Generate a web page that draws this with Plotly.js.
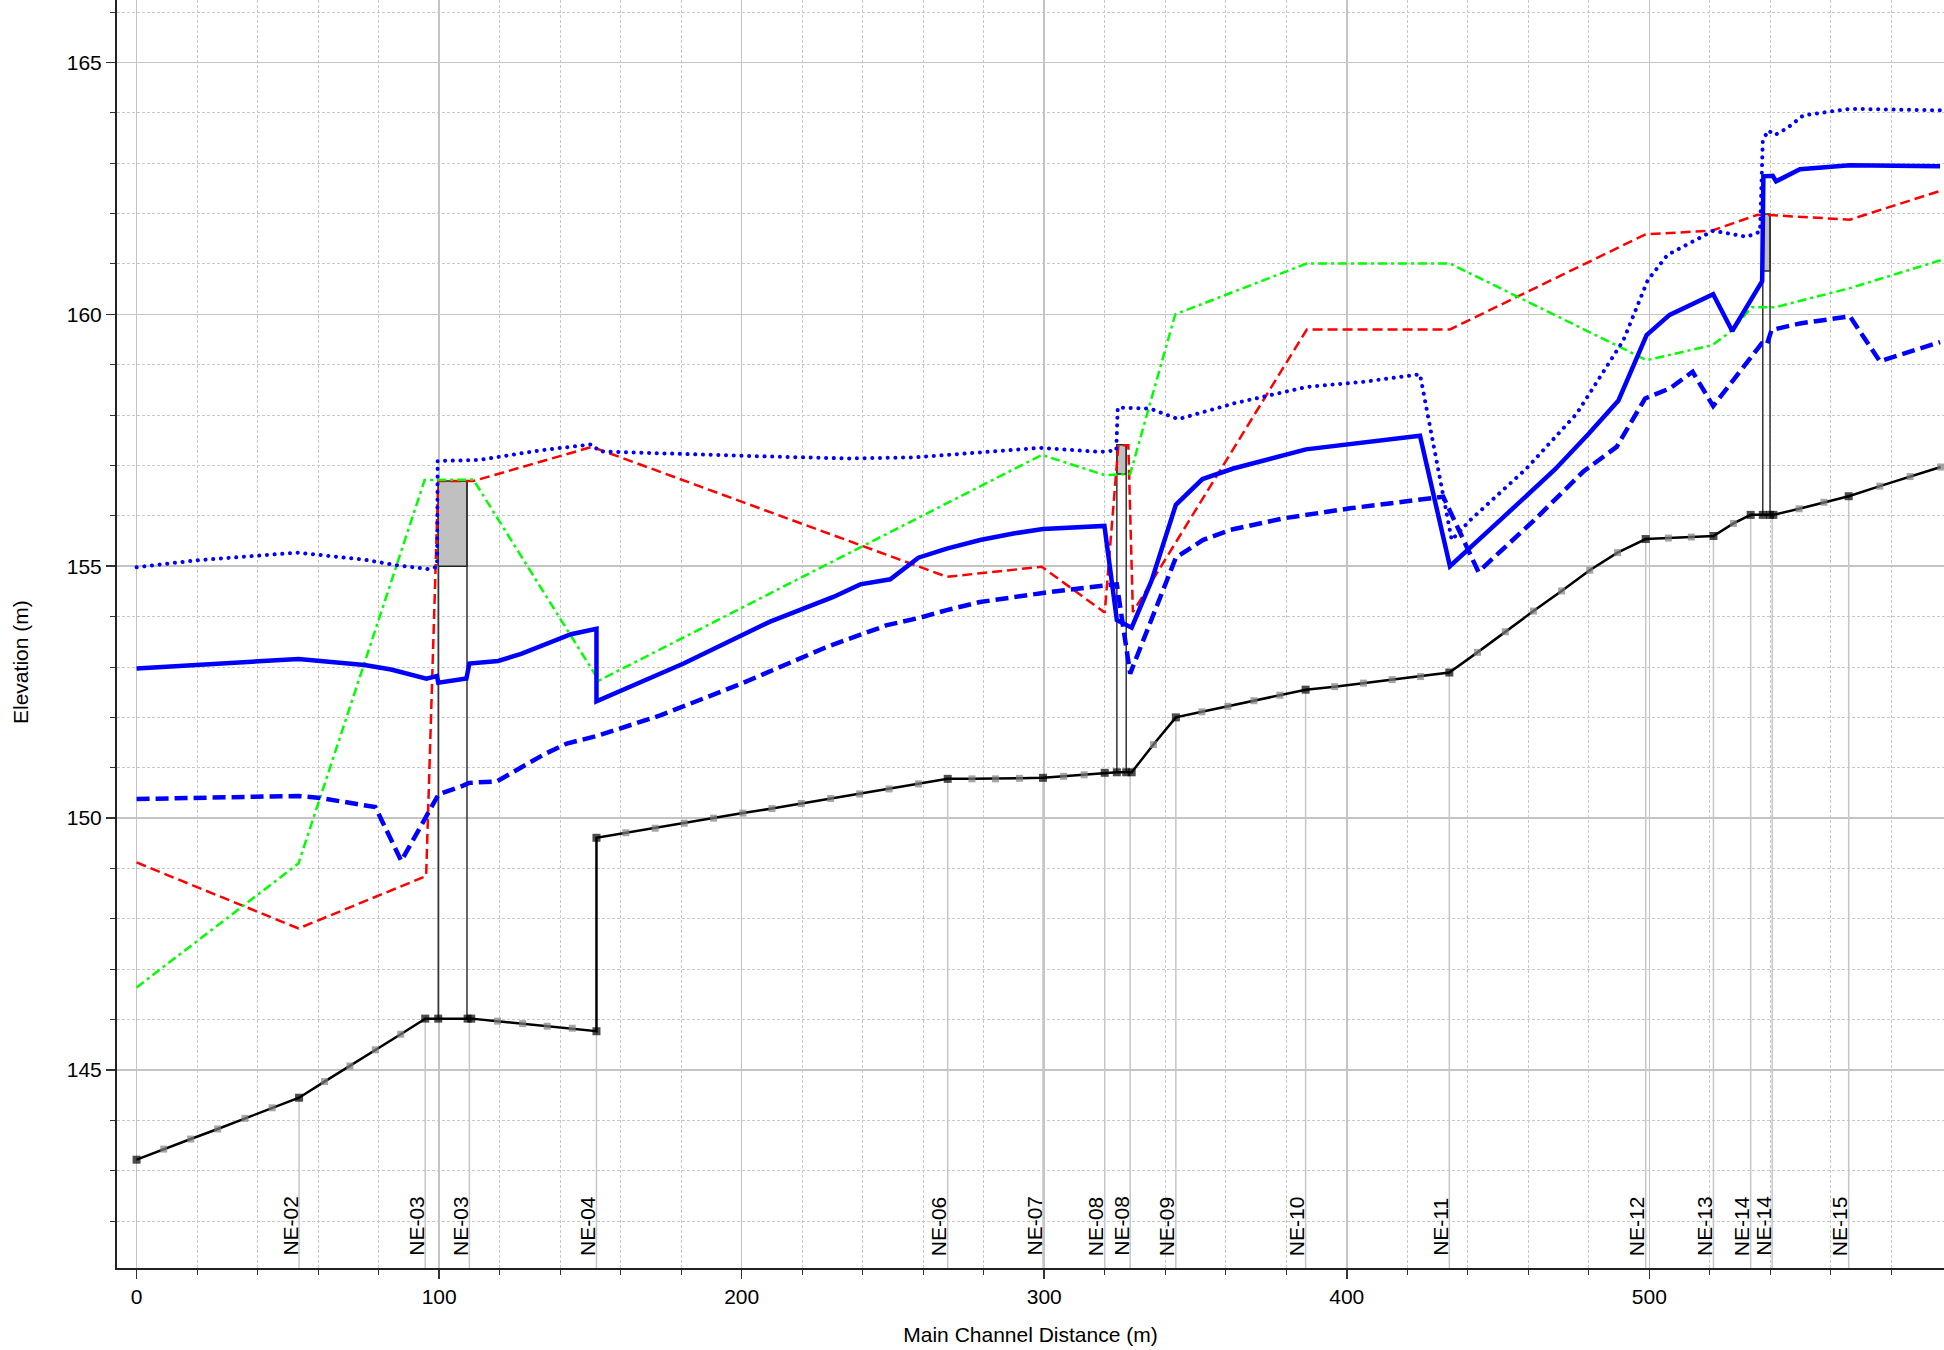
<!DOCTYPE html>
<html>
<head>
<meta charset="utf-8">
<script src="https://cdn.plot.ly/plotly-3.0.1.min.js"></script>
<style>
html,body{margin:0;padding:0;background:#fff;}
#chart{width:1944px;height:1350px;}
.traceeg path.js-line{stroke-linecap:round;}
</style>
</head>
<body>
<div id="chart"></div>
<script>
// ---------- Data ----------
// Ground profile (main channel invert); flag 1 = surveyed cross section, 0 = interpolated section
const groundX = [0, 8.96, 17.9, 26.8, 35.8, 44.8, 53.7, 62.1, 70.5, 78.9, 87.3, 95.4, 99.7, 109.4, 110.6, 119.3, 127.6, 135.7, 144.0, 152.0, 152.0, 161.7, 171.4, 181.0, 190.7, 200.4, 210.0, 219.7, 229.4, 239.0, 248.7, 258.4, 268.1, 276.1, 283.9, 291.8, 299.6, 306.4, 313.2, 320.0, 324.0, 327.1, 328.9, 336.1, 343.5, 352.1, 360.7, 369.3, 377.9, 386.4, 396.0, 405.5, 415.0, 424.4, 433.9, 443.2, 452.4, 461.7, 471.0, 480.3, 489.5, 498.8, 506.3, 513.9, 521.2, 527.8, 533.5, 537.5, 539.9, 541.0, 549.5, 557.7, 565.9, 576.2, 586.2, 596.3];
const groundY = [143.22, 143.43, 143.63, 143.83, 144.04, 144.25, 144.45, 144.77, 145.08, 145.40, 145.71, 146.02, 146.02, 146.02, 146.02, 145.97, 145.92, 145.87, 145.83, 145.77, 149.61, 149.71, 149.80, 149.90, 150.00, 150.10, 150.19, 150.29, 150.39, 150.48, 150.58, 150.68, 150.78, 150.78, 150.78, 150.79, 150.80, 150.83, 150.86, 150.90, 150.91, 150.91, 150.91, 151.46, 152.00, 152.11, 152.22, 152.33, 152.44, 152.55, 152.61, 152.68, 152.75, 152.81, 152.89, 153.29, 153.70, 154.11, 154.51, 154.92, 155.27, 155.54, 155.56, 155.58, 155.60, 155.85, 156.02, 156.02, 156.02, 156.02, 156.14, 156.27, 156.39, 156.59, 156.78, 156.97];
const groundXS = [1, 0, 0, 0, 0, 0, 1, 0, 0, 0, 0, 1, 1, 1, 1, 0, 0, 0, 0, 1, 1, 0, 0, 0, 0, 0, 0, 0, 0, 0, 0, 0, 1, 0, 0, 0, 1, 0, 0, 1, 1, 1, 1, 0, 1, 0, 0, 0, 0, 1, 0, 0, 0, 0, 1, 0, 0, 0, 0, 0, 0, 1, 0, 0, 1, 0, 1, 1, 1, 1, 0, 0, 1, 0, 0, 0];

// Water surface (solid blue)
const wsX = [0, 20.3, 53.5, 75.3, 84.1, 95.8, 99.3, 99.7, 109.0, 110.0, 119.5, 127.1, 143.6, 152.0, 152.0, 180.8, 209.4, 230.3, 239.2, 249.1, 258.4, 267.8, 278.8, 289.8, 299.6, 319.9, 324.0, 328.9, 335.5, 343.5, 352.3, 362.5, 374.6, 386.5, 424.2, 434.1, 450.6, 468.8, 479.8, 489.8, 499.1, 506.7, 521.1, 527.4, 537.3, 537.7, 540.8, 541.9, 549.8, 566.3, 596.1];
const wsY = [152.97, 153.05, 153.16, 153.04, 152.95, 152.77, 152.82, 152.69, 152.77, 153.07, 153.12, 153.26, 153.65, 153.76, 152.32, 153.07, 153.90, 154.39, 154.64, 154.74, 155.17, 155.35, 155.52, 155.65, 155.74, 155.80, 153.93, 153.78, 154.72, 156.22, 156.73, 156.94, 157.14, 157.32, 157.59, 155.00, 155.91, 156.92, 157.62, 158.29, 159.59, 159.99, 160.40, 159.67, 160.66, 162.74, 162.75, 162.64, 162.88, 162.96, 162.94];

// Critical water surface (dashed blue)
const critX = [0, 20.3, 53.5, 60.7, 78.9, 87.5, 99.8, 108.1, 109.9, 119.1, 134.5, 142.2, 152.1, 173.1, 199.5, 228.2, 248.0, 259.0, 267.8, 278.8, 299.6, 320.0, 324.0, 328.4, 343.5, 352.4, 361.4, 379.0, 386.2, 401.1, 431.9, 443.5, 461.7, 478.2, 489.2, 498.6, 506.8, 514.3, 521.1, 537.1, 538.8, 540.4, 549.8, 566.3, 576.2, 596.1];
const critY = [150.38, 150.41, 150.44, 150.40, 150.22, 149.15, 150.47, 150.65, 150.70, 150.73, 151.26, 151.48, 151.63, 152.04, 152.66, 153.40, 153.83, 153.98, 154.13, 154.29, 154.47, 154.62, 154.64, 152.87, 155.17, 155.52, 155.72, 155.95, 156.02, 156.15, 156.38, 154.89, 155.90, 156.88, 157.37, 158.33, 158.53, 158.86, 158.18, 159.42, 159.39, 159.69, 159.82, 159.96, 159.07, 159.45];

// Energy grade line (dotted blue)
const egX = [0, 20.3, 53.1, 75.3, 86.0, 96.8, 99.3, 99.5, 113.2, 133.4, 150.5, 153.0, 201.7, 234.8, 256.8, 278.8, 298.6, 318.5, 323.8, 324.3, 335.0, 344.3, 362.5, 386.8, 405.5, 424.2, 434.7, 440.7, 459.4, 476.0, 491.4, 499.5, 506.0, 521.1, 532.2, 536.6, 537.5, 539.3, 541.5, 545.4, 550.9, 566.3, 596.1];
const egY = [154.98, 155.12, 155.27, 155.13, 155.02, 154.94, 154.99, 157.09, 157.11, 157.30, 157.42, 157.28, 157.19, 157.14, 157.16, 157.27, 157.35, 157.27, 157.30, 158.15, 158.13, 157.92, 158.23, 158.56, 158.66, 158.81, 155.52, 155.91, 156.94, 158.03, 159.48, 160.68, 161.18, 161.66, 161.54, 161.64, 163.45, 163.65, 163.56, 163.69, 163.95, 164.08, 164.05];

// Left levee / bank (red dashed)
const leftX = [0, 53.5, 95.7, 99.7, 111.3, 150.5, 267.8, 299.2, 320.0, 324.5, 327.8, 329.3, 386.8, 434.1, 498.8, 520.6, 535.5, 539.9, 566.3, 596.1];
const leftY = [149.12, 147.81, 148.85, 156.69, 156.69, 157.37, 154.79, 154.99, 154.08, 157.40, 157.40, 154.09, 159.70, 159.70, 161.59, 161.66, 161.97, 161.97, 161.88, 162.45];

// Right levee / bank (green dash-dot)
const rightX = [0, 53.5, 95.2, 111.3, 152.8, 299.2, 320.0, 328.4, 343.3, 386.8, 434.1, 499.1, 520.8, 526.7, 533.8, 541.5, 566.3, 596.6];
const rightY = [146.64, 149.10, 156.71, 156.72, 152.73, 157.21, 156.81, 156.83, 160.00, 161.01, 161.01, 159.09, 159.39, 159.65, 160.14, 160.14, 160.52, 161.08];

// Bridges (upstream / downstream faces, low chord, high chord, ground)
const bridgeUpX = [99.7, 324.0, 537.5];
const bridgeDnX = [109.2, 327.1, 539.9];
const deckLow = [155.00, 156.83, 160.86];
const deckHigh = [156.69, 157.41, 161.99];
const bridgeGround = [146.02, 150.91, 156.02];

// Cross-section labels
const stationNames = ['NE-02', 'NE-03', 'NE-03', 'NE-04', 'NE-06', 'NE-07', 'NE-08', 'NE-08', 'NE-09', 'NE-10', 'NE-11', 'NE-12', 'NE-13', 'NE-14', 'NE-14', 'NE-15'];
const stationX = [53.7, 95.4, 110.0, 152.0, 268.1, 299.6, 320.0, 328.4, 343.5, 386.4, 433.9, 498.8, 521.2, 533.5, 540.6, 565.9];
const stationGround = [144.45, 146.02, 146.02, 145.77, 150.78, 150.80, 150.90, 150.91, 152.00, 152.55, 152.89, 155.54, 155.60, 156.02, 156.02, 156.39];

const xRange = [-6.48, 597.4];
const yRange = [141.07, 166.24];

// ---------- Build traces ----------
const FONT = 'Arial, "Liberation Sans", Helvetica, sans-serif';
const FS = 21;
const traces = [];

// station reference lines (ground down to axis)
const stLX = [], stLY = [];
stationX.forEach((x, i) => { stLX.push(x, x, null); stLY.push(stationGround[i], yRange[0], null); });
traces.push({type: 'scatter', mode: 'lines', x: stLX, y: stLY, line: {color: '#c6c6c6', width: 1.5}, hoverinfo: 'skip'});

// bridge boxes
bridgeUpX.forEach((u, i) => {
  const d = bridgeDnX[i];
  traces.push({type: 'scatter', mode: 'lines', x: [u, d, d, u, u], y: [deckLow[i], deckLow[i], deckHigh[i], deckHigh[i], deckLow[i]],
    fill: 'toself', fillcolor: '#c0c0c0', line: {color: '#222', width: 1.5}, hoverinfo: 'skip'});
});
// bridge abutment lines
const brX = [], brY = [];
bridgeUpX.forEach((u, i) => {
  brX.push(u, u, null, bridgeDnX[i], bridgeDnX[i], null);
  brY.push(bridgeGround[i], deckHigh[i], null, bridgeGround[i], deckHigh[i], null);
});
traces.push({type: 'scatter', mode: 'lines', x: brX, y: brY, line: {color: '#333', width: 1.5}, hoverinfo: 'skip'});

// ground
traces.push({type: 'scatter', mode: 'lines+markers', x: groundX, y: groundY,
  line: {color: '#000', width: 2.5},
  marker: {symbol: 'square', size: groundXS.map(f => f ? 8 : 7), color: groundXS.map(f => f ? '#000' : '#808080'), line: {width: 0}},
  name: 'Ground'});

traces.push({type: 'scatter', mode: 'lines', x: leftX, y: leftY, line: {color: '#ff0000', width: 2.5, dash: '10px,5px'}, name: 'Left Levee'});
traces.push({type: 'scatter', mode: 'lines', x: rightX, y: rightY, line: {color: '#00ff00', width: 2.5, dash: '9px,4px,3px,4px'}, name: 'Right Levee'});
traces.push({type: 'scatter', mode: 'lines', x: critX, y: critY, line: {color: '#0000ff', width: 4.5, dash: '13px,6px'}, name: 'Crit'});
traces.push({type: 'scatter', mode: 'lines', uid: 'eg', x: egX, y: egY, line: {color: '#0000ff', width: 4, dash: '0.1px,7.6px'}, name: 'EG'});
traces.push({type: 'scatter', mode: 'lines', x: wsX, y: wsY, line: {color: '#0000ff', width: 4.5}, name: 'WS'});

const annotations = stationNames.map((t, i) => ({
  text: t, x: stationX[i], xref: 'x', y: 0, yref: 'paper', xanchor: 'right', yanchor: 'bottom',
  textangle: -90, showarrow: false, yshift: 10, xshift: 4, font: {family: FONT, size: FS, color: '#000'}
}));
// y-axis title (placed as in the reference, slightly below the plot centre)
annotations.push({
  text: 'Elevation (m)', xref: 'paper', yref: 'paper', x: -0.0525, y: 0.478, xanchor: 'center', yanchor: 'middle',
  textangle: -90, showarrow: false, font: {family: FONT, size: FS, color: '#000'}
});

const layout = {
  width: 1944, height: 1350,
  margin: {l: 117, r: 0, t: 0, b: 82, pad: 0},
  paper_bgcolor: '#fff', plot_bgcolor: '#fff',
  showlegend: false,
  font: {family: FONT, size: FS, color: '#000'},
  xaxis: {
    range: xRange, tick0: 0, dtick: 100, ticks: 'outside', ticklen: 9, tickwidth: 1.5, tickcolor: '#333',
    showline: true, linecolor: '#222', linewidth: 2, showgrid: true, gridcolor: '#c4c4c4', gridwidth: 1.5,
    zeroline: false, automargin: false, tickfont: {size: FS, family: FONT, color: '#000'},
    minor: {dtick: 20, tick0: 0, ticks: 'outside', ticklen: 5, tickcolor: '#333', tickwidth: 1, showgrid: true, gridcolor: '#c8c8c8', griddash: '3px,2px', gridwidth: 1},
    title: {text: 'Main Channel Distance (m)', standoff: 20, font: {size: FS, family: FONT, color: '#000'}}
  },
  yaxis: {
    range: yRange, tick0: 0, dtick: 5, ticks: 'outside', ticklen: 9, tickwidth: 1.5, tickcolor: '#333',
    showline: true, linecolor: '#222', linewidth: 2, showgrid: true, gridcolor: '#c4c4c4', gridwidth: 1.5,
    zeroline: false, automargin: false, tickfont: {size: FS, family: FONT, color: '#000'},
    minor: {dtick: 1, tick0: 0, ticks: 'outside', ticklen: 5, tickcolor: '#333', tickwidth: 1, showgrid: true, gridcolor: '#c8c8c8', griddash: '3px,2px', gridwidth: 1}
  },
  annotations: annotations
};

Plotly.newPlot('chart', traces, layout, {staticPlot: true, displayModeBar: false});
</script>
</body>
</html>
